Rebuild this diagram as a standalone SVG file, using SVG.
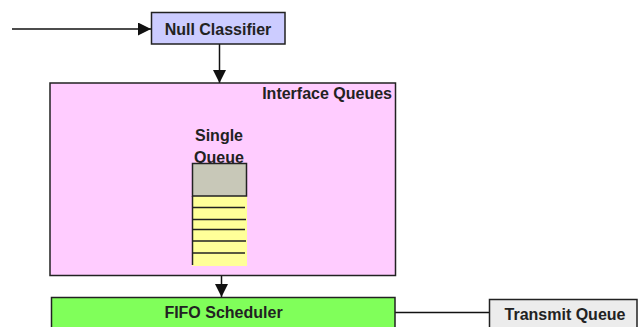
<svg xmlns="http://www.w3.org/2000/svg" width="640" height="327" viewBox="0 0 640 327">
  <defs>
    <marker id="arrow" markerUnits="userSpaceOnUse" markerWidth="13" markerHeight="13" viewBox="0 0 13 13" refX="13" refY="6.5" orient="auto">
      <path d="M0,0 L13,6.5 L0,13 Z" fill="#111"/>
    </marker>
    <style>
      .box { stroke: #222; stroke-width: 1.5; }
      .lbl { font-family: "Liberation Sans", Arial, sans-serif; font-weight: bold; font-size: 16px; fill: #222; }
      .edge { stroke: #111; stroke-width: 1.5; fill: none; }
      .slot { stroke: #222; stroke-width: 1.5; }
    </style>
  </defs>
  <rect width="640" height="327" fill="#ffffff"/>

  <!-- connectors -->
  <g id="connectors">
    <line class="edge" x1="12" y1="29" x2="151" y2="29" marker-end="url(#arrow)"/>
    <line class="edge" x1="219.5" y1="44" x2="219.5" y2="83" marker-end="url(#arrow)"/>
    <line class="edge" x1="221.5" y1="266" x2="221.5" y2="297" marker-end="url(#arrow)"/>
    <line class="edge" x1="395" y1="312.5" x2="489" y2="312.5"/>
  </g>

  <g id="null-classifier">
    <rect class="box" x="151.5" y="12.5" width="133.5" height="31.5" fill="#ccccff"/>
    <text class="lbl" x="218" y="34.5" text-anchor="middle" fill="#22223a">Null Classifier</text>
  </g>

  <g id="interface-queues">
    <rect class="box" x="50" y="83" width="345.5" height="192.5" fill="#ffccff"/>
    <text class="lbl" x="392" y="98.5" text-anchor="end">Interface Queues</text>
  </g>

  <g id="single-queue">
    <text class="lbl" x="219" y="141" text-anchor="middle" fill="#3a2840">Single</text>
    <text class="lbl" x="219" y="162.5" text-anchor="middle" fill="#3a2840">Queue</text>
    <rect x="192" y="196" width="55" height="70" fill="#ffff99"/>
    <rect class="box" x="192.5" y="163.5" width="54" height="32.5" fill="#c8c8b8"/>
    <line class="slot" x1="192.5" y1="196" x2="192.5" y2="265"/>
    <line class="slot" x1="192.5" y1="207.5" x2="245" y2="207.5"/>
    <line class="slot" x1="192.5" y1="219.5" x2="246" y2="219.5"/>
    <line class="slot" x1="192.5" y1="229.5" x2="245" y2="229.5"/>
    <line class="slot" x1="192.5" y1="241" x2="246" y2="241"/>
    <line class="slot" x1="192.5" y1="253" x2="245" y2="253"/>
  </g>

  <g id="fifo-scheduler">
    <rect class="box" x="51.5" y="297.5" width="343.5" height="34" fill="#80ff5a"/>
    <text class="lbl" x="223.5" y="317.5" text-anchor="middle" fill="#1a3312">FIFO Scheduler</text>
  </g>

  <g id="transmit-queue">
    <rect class="box" x="489.5" y="299.5" width="147.5" height="32" fill="#ececec"/>
    <text class="lbl" x="565" y="320" text-anchor="middle">Transmit Queue</text>
  </g>
</svg>
